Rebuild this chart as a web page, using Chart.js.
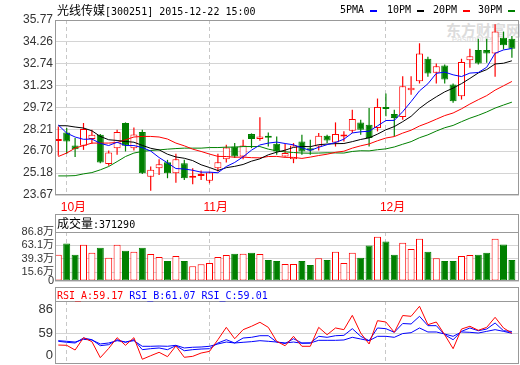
<!DOCTYPE html>
<html>
<head>
<meta charset="utf-8">
<script src="https://cdn.jsdelivr.net/npm/chart.js@4.4.1/dist/chart.umd.min.js"></script>
<style>
body{margin:0;background:#fff;width:520px;height:365px;overflow:hidden;position:relative}
canvas{position:absolute;left:0;z-index:1}
.t{position:absolute;white-space:nowrap;line-height:12px;z-index:2;color:#000}
.m{font-family:'DejaVu Sans Mono',monospace;font-size:10px}
.c{font-family:'Noto Sans CJK SC';font-size:12px}
.box{position:absolute;left:55px;width:464px;border:1px solid #999;border-bottom:none;box-sizing:border-box;z-index:2}
.dash{position:absolute;height:2px;width:7px;z-index:2}
.wm{position:absolute;z-index:0;color:#dcdcdc;font-family:'Noto Sans CJK SC';white-space:nowrap}
</style>
</head>
<body>
<div class="wm" style="left:446px;top:19px;font-size:15px;font-weight:bold">东方财富网</div>
<div class="wm" style="left:452px;top:34px;font-size:9px;font-family:'Liberation Sans'">eastmoney</div>

<div class="t" style="left:57px;top:4px"><span class="c">光线传媒</span><span class="m">[300251] 2015-12-22 15:00</span></div>
<div class="t m" style="left:340px;top:4px">5PMA</div><div class="dash" style="left:370px;top:10px;background:#0000ff"></div>
<div class="t m" style="left:387px;top:4px">10PM</div><div class="dash" style="left:417px;top:10px;background:#000"></div>
<div class="t m" style="left:433px;top:4px">20PM</div><div class="dash" style="left:463px;top:10px;background:#ff0000"></div>
<div class="t m" style="left:478px;top:4px">30PM</div><div class="dash" style="left:508px;top:10px;background:#008000"></div>

<div class="box" style="top:214px;height:19px"></div>
<div class="t" id="volTitle" style="left:57px;top:217px"></div>
<div class="box" style="top:287px;height:15px"></div>
<div class="t" id="rsiTitle" style="left:57px;top:288px"></div>

<canvas id="price" width="520" height="214" style="top:0"></canvas>
<canvas id="vol" width="520" height="74" style="top:214px"></canvas>
<canvas id="rsi" width="520" height="78" style="top:287px"></canvas>

<script>
// daily candles, 2015-09-30 .. 2015-12-22
const opens  = [27.41,28.00,27.09,27.07,27.54,27.84,25.82,26.91,28.65,26.91,28.02,24.94,25.52,25.94,25.18,25.87,24.87,24.99,24.66,25.52,26.15,27.02,26.33,27.88,27.54,27.72,27.21,26.33,26.15,27.37,26.91,27.02,27.77,27.30,27.72,28.11,28.69,28.53,28.30,29.76,29.27,29.07,30.91,31.54,33.09,32.12,32.63,31.31,30.50,32.99,33.69,33.69,33.46,34.55,34.48];
const highs  = [28.41,28.30,27.61,28.65,28.18,27.88,26.75,28.18,28.69,28.34,28.18,25.64,26.15,26.10,26.52,26.10,25.52,25.36,25.29,26.52,27.14,27.26,27.49,27.93,29.04,28.00,27.72,27.19,27.26,27.84,27.49,27.95,27.84,28.69,28.07,29.57,28.88,29.69,30.34,30.68,29.57,31.88,31.88,34.16,33.23,32.77,32.70,31.38,33.09,33.79,34.48,34.48,35.48,34.97,34.66];
const lows   = [26.38,26.52,26.29,26.79,27.21,25.87,25.70,26.45,26.68,26.75,25.13,23.97,25.06,24.83,24.52,24.71,24.41,24.71,24.48,25.29,25.91,26.22,26.15,26.91,27.42,27.02,26.45,26.31,25.87,26.45,26.45,26.75,27.26,27.02,27.37,27.95,27.84,27.02,28.07,29.11,27.72,28.88,30.61,31.38,31.84,31.38,31.38,30.04,30.27,32.47,32.70,32.81,31.84,33.74,33.16];
const closes = [27.48,27.37,26.84,28.23,27.84,25.91,26.61,28.02,27.07,27.86,25.18,25.41,25.80,25.18,26.15,24.83,24.94,25.13,25.22,25.94,26.96,26.33,27.09,27.54,27.72,27.63,26.68,26.57,27.09,26.68,26.75,27.77,27.44,27.88,27.79,28.93,28.18,27.61,29.76,29.62,28.99,31.19,31.08,33.46,32.07,32.58,31.66,30.15,32.86,33.27,32.77,33.46,34.97,34.02,33.79];

const ma5  = [28.51,27.95,27.68,27.52,27.54,27.24,27.09,27.32,27.09,27.09,26.95,26.71,26.26,25.89,25.50,25.47,25.38,25.25,25.25,25.21,25.64,25.92,26.31,26.77,27.13,27.26,27.33,27.23,27.14,26.93,26.75,26.97,27.15,27.30,27.53,27.96,28.04,28.08,28.45,28.82,28.83,29.43,30.13,30.87,31.36,32.08,32.17,31.98,31.86,32.10,32.14,32.50,33.47,33.70,33.80];
const ma10 = [28.46,28.46,28.37,28.30,28.11,27.72,27.49,27.44,27.37,27.32,27.10,26.90,26.79,26.49,26.30,26.21,26.05,25.76,25.57,25.36,25.56,25.65,25.78,26.01,26.17,26.45,26.63,26.77,26.96,27.03,27.01,27.15,27.19,27.22,27.23,27.36,27.51,27.62,27.88,28.18,28.40,28.74,29.11,29.66,30.09,30.46,30.80,31.06,31.37,31.73,32.11,32.34,32.73,32.78,32.95];
const ma20 = [26.33,26.57,26.91,27.09,27.26,27.26,27.26,27.30,27.49,27.68,27.72,27.72,27.68,27.54,27.26,27.07,26.84,26.68,26.50,26.34,26.33,26.28,26.29,26.25,26.24,26.33,26.34,26.27,26.27,26.20,26.29,26.40,26.49,26.62,26.70,26.91,27.07,27.20,27.42,27.61,27.71,27.95,28.15,28.44,28.66,28.91,29.16,29.34,29.63,29.96,30.26,30.54,30.92,31.22,31.52];
const ma30 = [24.99,24.99,25.01,25.13,25.22,25.41,25.64,25.98,26.33,26.57,26.68,26.75,26.79,26.84,26.88,26.91,26.91,26.91,26.95,26.95,26.98,26.98,27.02,27.02,27.02,26.84,26.72,26.65,26.61,26.57,26.56,26.57,26.59,26.58,26.57,26.68,26.73,26.72,26.80,26.86,26.99,27.18,27.36,27.63,27.83,28.09,28.32,28.48,28.74,28.98,29.18,29.41,29.68,29.89,30.09];

// volume in 万
const volumes = [46.5,66.4,46.5,64.0,50.1,59.1,41.0,64.0,53.7,51.9,59.1,47.7,42.3,35.6,44.1,35.6,26.0,29.7,32.0,42.3,45.9,48.3,48.3,50.1,47.7,37.4,35.6,30.2,30.2,35.6,28.4,40.5,37.4,51.9,32.0,50.1,41.0,62.7,78.5,70.0,46.5,67.6,56.8,74.9,51.9,40.5,35.6,35.6,44.1,45.9,46.5,50.1,74.9,64.6,37.129];

const rsiA = [45.8,45.5,40.2,54.1,49.6,31.6,42.0,54.1,45.5,54.1,29.8,33.8,37.6,32.7,44.8,32.0,33.1,36.8,38.7,51.8,65.7,52.9,63.1,66.9,71.4,65.7,50.0,45.0,55.6,44.4,44.4,65.7,57.4,65.0,63.1,79.2,59.3,47.0,73.2,71.7,60.1,79.0,78.1,89.4,68.7,71.7,57.4,41.7,63.8,66.9,62.4,65.7,77.0,65.0,59.17];
const rsiB = [50.0,48.9,48.1,53.7,51.8,45.1,46.2,51.8,48.9,51.8,40.6,41.7,42.5,40.6,45.1,39.4,40.6,41.3,41.7,48.1,51.8,48.1,53.7,54.5,56.3,56.3,49.2,47.5,52.9,48.1,48.1,55.6,54.5,56.3,56.7,64.2,55.6,50.7,65.0,64.2,60.1,70.0,69.5,78.1,67.6,67.6,57.4,51.8,61.2,65.0,61.9,63.8,70.6,61.9,61.07];
const rsiC = [50.7,50.0,49.2,52.2,51.5,47.0,48.1,50.7,49.2,50.7,44.4,44.4,44.7,44.4,45.5,42.5,43.3,43.6,44.4,47.0,49.2,48.1,48.9,49.6,50.7,50.0,49.2,48.1,49.2,47.8,48.1,51.1,51.1,51.1,51.5,54.5,52.6,50.7,55.6,55.6,54.5,58.7,59.7,65.0,60.5,60.5,58.2,55.6,60.5,60.1,59.3,61.2,63.1,61.2,59.01];

const priceTicks = ['23.67','25.18','26.70','28.21','29.72','31.23','32.74','34.26','35.77'];
const volTickVals = [0, 15.6, 39.3, 63.1, 86.8];
const volTicks = ['0','15.6万','39.3万','63.1万','86.8万'];
const rsiTickVals = [34.6, 59, 86];
const rsiTicks = ['0','59','86'];
const monthStarts = [1, 18, 39];
const monthNames = ['10月','11月','12月'];

const RED = '#ff0000', GREEN = '#008000', BLUE = '#0000ff';
const FONT = "'Liberation Sans', 'Noto Sans CJK SC', sans-serif";
const idx = closes.map((c, i) => i);
const up = closes.map((c, i) => c >= opens[i]);
const pts = arr => arr.map((v, i) => ({x: i, y: v}));

document.getElementById('volTitle').innerHTML =
  '<span class="c">成交量</span><span class="m">:' + Math.round(volumes[54] * 10000) + '</span>';
document.getElementById('rsiTitle').innerHTML =
  '<span class="m" style="color:#f00">RSI_A:' + rsiA[54].toFixed(2) + '</span>' +
  '<span class="m" style="color:#00f;margin-left:6px">RSI_B:' + rsiB[54].toFixed(2) + '</span>' +
  '<span class="m" style="color:#00f;margin-left:6px">RSI_C:' + rsiC[54].toFixed(2) + '</span>';

// box round the plot area
const frame = {
  id: 'frame',
  afterDraw(c) {
    const a = c.chartArea, ctx = c.ctx;
    ctx.save();
    ctx.strokeStyle = '#999';
    ctx.lineWidth = 1;
    ctx.strokeRect(a.left + 0.5, a.top + 0.5, a.right - a.left - 1, a.bottom - a.top - 1);
    ctx.restore();
  }
};

function noPad(s) { s.paddingTop = s.paddingBottom = s.paddingLeft = s.paddingRight = 0; }

function xAxis(showLabels) {
  return {
    type: 'linear', min: -0.393, max: 54.845, bounds: 'data', offset: false,
    afterBuildTicks: s => { s.ticks = monthStarts.map(v => ({value: v})); },
    afterFit: s => { s.height = showLabels ? 19 : 0; noPad(s); },
    grid: { color: '#c8c8c8', drawTicks: false, offset: false },
    border: { display: false, dash: [4, 3] },
    ticks: {
      display: showLabels, autoSkip: false, maxRotation: 0, minRotation: 0,
      align: 'start', labelOffset: -6, padding: 5, color: RED,
      font: { family: FONT, size: 12 },
      callback: (v, i) => monthNames[i]
    }
  };
}

function yAxis(min, max, vals, labels, size, pad, gridColor) {
  return {
    type: 'linear', position: 'left', min, max, bounds: 'data', beginAtZero: false,
    afterBuildTicks: s => { s.ticks = vals.map(v => ({value: v})); },
    afterFit: s => { s.width = 55; noPad(s); },
    grid: { color: gridColor, drawTicks: false },
    border: { display: false },
    ticks: {
      autoSkip: false, padding: pad, color: '#333',
      font: { family: FONT, size },
      callback: (v, i) => labels[i]
    }
  };
}

function baseOpts(padding, scales) {
  return {
    responsive: false, animation: false, events: [],
    layout: { padding, autoPadding: false },
    plugins: { legend: { display: false }, tooltip: { enabled: false } },
    scales
  };
}

function line(data, color) {
  return { type: 'line', data: pts(data), borderColor: color, borderWidth: 1,
           pointRadius: 0, tension: 0, fill: false, order: 0 };
}

const barBase = { grouped: false, barPercentage: 1, categoryPercentage: 1, inflateAmount: 0 };

// price panel
new Chart(document.getElementById('price'), {
  type: 'bar',
  data: {
    datasets: [
      line(ma5, BLUE), line(ma10, '#000'), line(ma20, RED), line(ma30, GREEN),
      Object.assign({ data: idx.map(i => ({x: i, y: [opens[i], closes[i]]})),
        backgroundColor: up.map(u => u ? '#fff' : GREEN),
        borderColor: up.map(u => u ? RED : GREEN),
        borderWidth: 1, borderSkipped: false, maxBarThickness: 7, minBarLength: 2,
        order: 1 }, barBase),
      Object.assign({ data: idx.map(i => ({x: i, y: [lows[i], highs[i]]})),
        backgroundColor: up.map(u => u ? RED : GREEN),
        borderWidth: 0, maxBarThickness: 1.2, order: 2 }, barBase)
    ]
  },
  options: baseOpts({top: 20, right: 1, bottom: 0, left: 0}, {
    x: xAxis(true),
    y: yAxis(23.67, 35.77, priceTicks.map(Number), priceTicks, 12, 2, '#d4d4d4')
  }),
  plugins: [frame]
});

// volume panel
new Chart(document.getElementById('vol'), {
  type: 'bar',
  data: {
    datasets: [Object.assign({
      data: idx.map(i => ({x: i, y: volumes[i]})),
      backgroundColor: up.map(u => u ? '#fff' : GREEN),
      borderColor: up.map(u => u ? RED : GREEN),
      borderWidth: 1, borderSkipped: false, maxBarThickness: 7
    }, barBase)]
  },
  options: baseOpts({top: 18, right: 1, bottom: 7, left: 0}, {
    x: xAxis(false),
    y: yAxis(0, 86.8, volTickVals, volTicks, 11, 1, '#d4d4d4')
  }),
  plugins: [frame]
});

// RSI panel
new Chart(document.getElementById('rsi'), {
  type: 'line',
  data: { datasets: [line(rsiA, RED), line(rsiB, BLUE), line(rsiC, BLUE)] },
  options: baseOpts({top: 14, right: 1, bottom: 1, left: 0}, {
    x: xAxis(false),
    y: yAxis(24.47, 95.34, rsiTickVals, rsiTicks, 13, 2,
             c => (c.tick && c.tick.value === 59) ? '#d4d4d4' : 'rgba(0,0,0,0)')
  }),
  plugins: [frame]
});
</script>
</body>
</html>
